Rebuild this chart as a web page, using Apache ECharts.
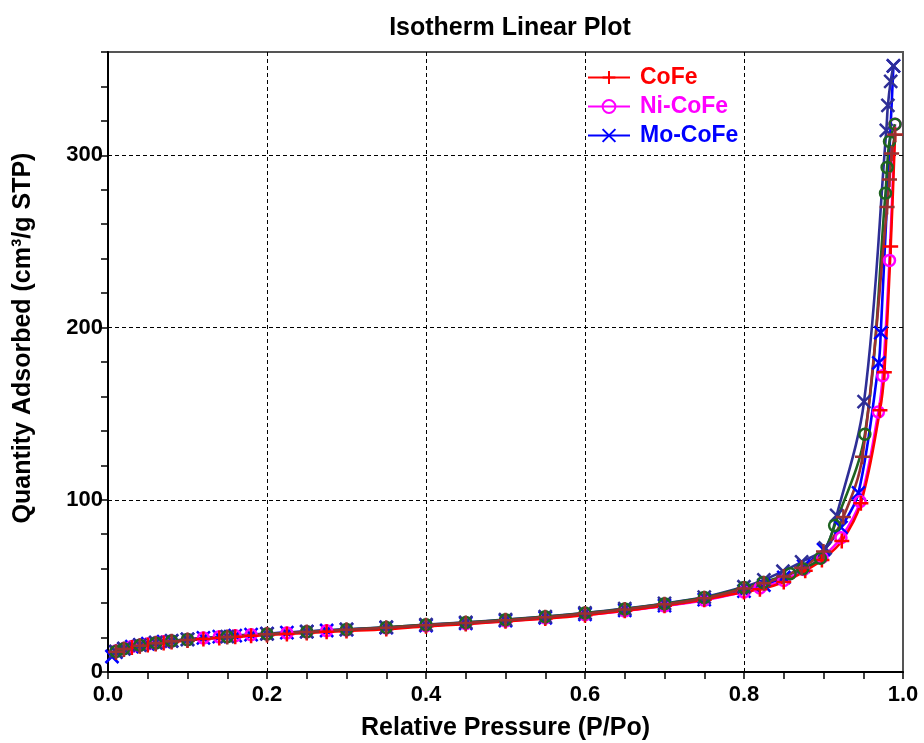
<!DOCTYPE html>
<html>
<head>
<meta charset="utf-8">
<script src="https://cdn.jsdelivr.net/npm/echarts@6/dist/echarts.min.js"></script>
<style>html,body{margin:0;padding:0;background:#fff;}#c{width:924px;height:743px;}</style>
</head>
<body>
<div id="c"></div>
<script>
// ---- data ----
const titleText = 'Isotherm Linear Plot';
const xName = 'Relative Pressure (P/Po)';
const yName = 'Quantity Adsorbed (cm³/g STP)';
const legendNames = ['CoFe', 'Ni-CoFe', 'Mo-CoFe'];

const lowP = [0.01,0.02,0.03,0.04,0.05,0.06,0.07,0.08,0.10,0.12,0.14,0.16,0.18,0.20,0.225,0.25,0.275,0.30,0.35,0.40,0.45,0.50,0.55,0.60,0.65,0.70,0.75,0.80];

const coFeAdsP = lowP.concat([0.82,0.85,0.877,0.898,0.923,0.947,0.971,0.9765,0.9845,0.990]);
const coFeAdsQ = [11.5,13.0,14.2,15.0,15.7,16.3,16.9,17.4,18.3,19.1,19.8,20.4,21.0,21.5,22.1,22.7,23.3,23.8,24.9,26.5,27.8,29.4,31.0,33.0,35.6,38.5,42.0,46.5,48.0,52.3,58.8,65.0,76.0,98.0,152,174,247,312];

const niCoFeAdsP = lowP.concat([0.82,0.85,0.875,0.898,0.922,0.946,0.969,0.9745,0.983,0.990]);
const niCoFeAdsQ = [12.2,13.6,14.8,15.6,16.3,16.9,17.5,18.0,18.9,19.7,20.4,21.0,21.6,22.1,22.7,23.3,23.9,24.4,25.5,26.8,28.1,29.6,31.3,33.2,35.5,38.3,41.7,46.5,48.8,53.2,59.5,66.5,78,99,151,172,239,318];

const moCoFeAdsP = [0.005].concat(lowP, [0.825,0.85,0.875,0.90,0.922,0.944,0.9695,0.972,0.988]);
const moCoFeAdsQ = [9.0,11.5,13.5,14.8,15.7,16.4,17.0,17.6,18.1,19.0,19.8,20.5,21.1,21.7,22.3,22.9,23.5,24.1,24.6,25.7,27.0,28.3,29.8,31.5,33.5,35.8,38.6,42.0,47.0,50.5,55.0,61.5,71.0,84.0,104,179.5,197,352];

const desLowP = [0.80,0.75,0.70,0.65,0.60,0.55,0.50,0.45,0.40,0.35,0.30,0.25,0.20,0.15,0.10,0.08,0.06,0.04,0.02,0.01];

const coFeDesP = [0.990,0.9857,0.983,0.980,0.949,0.925,0.90,0.8725,0.85,0.825].concat(desLowP);
const coFeDesQ = [312,301,286,270,125,90,70,60.5,55.5,51.5,48.5,42.8,39.3,36.3,33.9,31.8,30.0,28.5,27.2,25.7,24.5,23.2,21.9,20.3,18.6,17.8,16.7,15.3,13.3,11.7];

const niCoFeDesP = [0.990,0.983,0.980,0.978,0.952,0.914,0.896,0.874,0.858,0.824].concat(desLowP);
const niCoFeDesQ = [318,308,293,278,138,85,66,60,57,52,49,43.2,39.6,36.6,34.2,32.1,30.3,28.7,27.4,25.9,24.7,23.4,22.1,20.5,18.8,18.0,16.9,15.5,13.5,11.9];

const moCoFeDesP = [0.988,0.9845,0.981,0.979,0.951,0.9165,0.902,0.8725,0.849,0.825].concat(desLowP);
const moCoFeDesQ = [352,343,329,314.5,157,91,72,64,58.5,53.5,49.5,43.5,39.8,36.8,34.3,32.2,30.4,28.8,27.5,26.0,24.8,23.5,22.2,20.6,18.9,18.1,17.0,15.6,13.6,12.0];

// ---- chart ----
const FONT = '"Liberation Sans Narrow", "Liberation Sans", Arial, sans-serif';
const PLUS = 'path://M0,5 L10,5 M5,0 L5,10';
const CROSS = 'path://M0,0 L10,10 M10,0 L0,10';
function zip(p, q) { return p.map((x, i) => [x, q[i]]); }
function ser(name, p, q, color, symbol, size) {
  return {
    name, type: 'line', data: zip(p, q), smooth: 0.35,
    symbol, symbolSize: size, showSymbol: true,
    lineStyle: { color, width: 2.6 },
    itemStyle: { color: 'rgba(0,0,0,0)', borderColor: color, borderWidth: 2.5 },
    emphasis: { disabled: true }, clip: true
  };
}
const chart = echarts.init(document.getElementById('c'), null, { renderer: 'canvas' });
chart.setOption({
  animation: false,
  backgroundColor: '#fff',
  title: { text: titleText, left: 505, top: 11, textAlign: 'center',
    textStyle: { fontFamily: FONT, fontSize: 25, fontWeight: 'bold', color: '#000' } },
  legend: {
    orient: 'vertical', left: 582, top: 61, itemWidth: 42, itemHeight: 16, itemGap: 6,
    textStyle: { fontFamily: FONT, fontSize: 23, fontWeight: 'bold', padding: [0, 0, 0, 5] },
    data: [
      { name: 'CoFe', textStyle: { color: '#ff0000' } },
      { name: 'Ni-CoFe', textStyle: { color: '#ff00ff' } },
      { name: 'Mo-CoFe', textStyle: { color: '#0000ff' } }
    ]
  },
  grid: { left: 108, right: 21, top: 52, bottom: 71, show: true, borderColor: '#555', borderWidth: 2,
    containLabel: false, outerBoundsMode: 'none' },
  xAxis: [{
    type: 'value', min: 0, max: 1, interval: 0.05,
    name: xName, nameLocation: 'middle', nameGap: 44,
    nameTextStyle: { fontFamily: FONT, fontSize: 25, fontWeight: 'bold', color: '#000' },
    axisLine: { show: true, lineStyle: { color: '#000', width: 2 } },
    axisTick: { show: true, length: 7, lineStyle: { color: '#000', width: 1.5 } },
    axisLabel: { fontFamily: FONT, fontSize: 22, fontWeight: 'bold', color: '#000', margin: 12,
      formatter: v => { const k = Math.round(v * 20); return k % 4 === 0 ? (k / 20).toFixed(1) : ''; } },
    splitLine: { show: false }
  }, {
    type: 'value', min: 0, max: 1, interval: 0.2, position: 'bottom',
    axisLine: { show: false }, axisTick: { show: false }, axisLabel: { show: false },
    splitLine: { show: true, showMinLine: false, showMaxLine: false, lineStyle: { color: '#000', width: 1, type: [4, 3] } }
  }],
  yAxis: [{
    type: 'value', min: 0, max: 360, interval: 20,
    name: yName, nameLocation: 'middle', nameGap: 72,
    nameTextStyle: { fontFamily: FONT, fontSize: 25, fontWeight: 'bold', color: '#000', padding: [0, 0, 0, 48] },
    axisLine: { show: true, lineStyle: { color: '#000', width: 2 } },
    axisTick: { show: true, length: 7, lineStyle: { color: '#000', width: 1.5 } },
    axisLabel: { fontFamily: FONT, fontSize: 22, fontWeight: 'bold', color: '#000', margin: 5,
      formatter: v => (Math.round(v) % 100 === 0 ? String(Math.round(v)) : '') },
    splitLine: { show: false }
  }, {
    type: 'value', min: 0, max: 360, interval: 100, position: 'left',
    axisLine: { show: false }, axisTick: { show: false }, axisLabel: { show: false },
    splitLine: { show: true, showMinLine: false, showMaxLine: false, lineStyle: { color: '#000', width: 1, type: [4, 3] } }
  }],
  series: [
    ser('Mo-CoFe', moCoFeAdsP, moCoFeAdsQ, '#0000ff', CROSS, 13),
    ser('Ni-CoFe', niCoFeAdsP, niCoFeAdsQ, '#ff00ff', 'circle', 11),
    ser('CoFe', coFeAdsP, coFeAdsQ, '#ff0000', PLUS, 15),
    ser('Mo-CoFe desorption', moCoFeDesP, moCoFeDesQ, '#2e2e96', CROSS, 13),
    ser('Ni-CoFe desorption', niCoFeDesP, niCoFeDesQ, '#1e6420', 'circle', 11),
    ser('CoFe desorption', coFeDesP, coFeDesQ, '#9a3030', PLUS, 15)
  ]
});
</script>
</body>
</html>
